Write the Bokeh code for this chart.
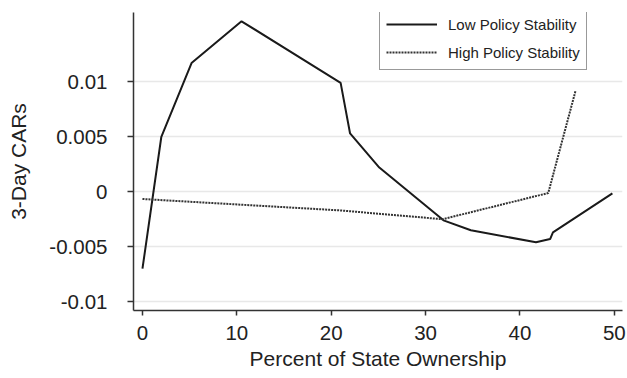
from bokeh.plotting import figure
from bokeh.models import FixedTicker, Range1d, Legend, LegendItem
from bokeh.embed import file_html
from bokeh.resources import INLINE

# ---- data ----
pct_low = [0.0, 2.0, 5.2, 10.5, 21.0, 22.0, 25.1, 31.9, 34.8, 41.7, 43.2, 43.5, 49.8]
car_low = [-0.0070, 0.0050, 0.0117, 0.0155, 0.0099, 0.0053, 0.0022,
           -0.0026, -0.0035, -0.0046, -0.0043, -0.0037, -0.00015]

pct_high = [0.0, 21.0, 31.8, 43.0, 45.9]
car_high = [-0.00066, -0.0017, -0.0025, -0.00012, 0.0092]

x_ticks = [0, 10, 20, 30, 40, 50]
y_ticks = [-0.01, -0.005, 0.0, 0.005, 0.01]
y_tick_labels = ["-0.01", "-0.005", "0", "0.005", "0.01"]

series_names = ["Low Policy Stability", "High Policy Stability"]

FONT = "Liberation Sans"
AX = "#333333"

p = figure(width=627, height=378, output_backend="svg", toolbar_location=None,
           x_range=Range1d(-0.95, 50.87), y_range=Range1d(-0.0108, 0.0163),
           min_border_left=133, min_border_right=5, min_border_top=12,
           min_border_bottom=68)
p.outline_line_color = None
p.background_fill_color = "white"
p.border_fill_color = "white"

# grid
p.xgrid.grid_line_color = None
p.ygrid.ticker = FixedTicker(ticks=y_ticks)
p.ygrid.grid_line_color = "#e8e8e8"
p.ygrid.grid_line_width = 1.5

# x axis
xa = p.xaxis[0]
xa.ticker = FixedTicker(ticks=x_ticks)
xa.axis_label = "Percent of State Ownership"
xa.axis_line_color = AX
xa.axis_line_width = 1.5
xa.major_tick_line_color = AX
xa.major_tick_line_width = 1.5
xa.major_tick_out = 5
xa.major_tick_in = 0
xa.minor_tick_line_color = None
xa.major_label_standoff = 10
xa.major_label_text_font = FONT
xa.major_label_text_font_size = "20.5px"
xa.major_label_text_color = "#222222"
xa.axis_label_text_font = FONT
xa.axis_label_text_font_size = "21px"
xa.axis_label_text_font_style = "normal"
xa.axis_label_text_color = "#222222"
xa.axis_label_standoff = 4

# y axis
ya = p.yaxis[0]
ya.ticker = FixedTicker(ticks=y_ticks)
ya.major_label_overrides = {t: l for t, l in zip(y_ticks, y_tick_labels)}
ya.axis_label = "3-Day CARs"
ya.axis_line_color = AX
ya.axis_line_width = 1.5
ya.major_tick_line_color = AX
ya.major_tick_line_width = 1.5
ya.major_tick_out = 6
ya.major_tick_in = 0
ya.minor_tick_line_color = None
ya.major_label_standoff = 20
ya.major_label_text_font = FONT
ya.major_label_text_font_size = "20.5px"
ya.major_label_text_color = "#222222"
ya.axis_label_text_font = FONT
ya.axis_label_text_font_size = "21px"
ya.axis_label_text_font_style = "normal"
ya.axis_label_text_color = "#222222"
ya.axis_label_standoff = 16

r_low = p.line(pct_low, car_low, line_color="#1a1a1a", line_width=2)
r_high = p.line(pct_high, car_high, line_color="#333333", line_width=2,
                line_dash="2 1")

legend = Legend(items=[LegendItem(label=series_names[0], renderers=[r_low]),
                       LegendItem(label=series_names[1], renderers=[r_high])],
                location=(246, 240))
legend.border_line_color = AX
legend.border_line_width = 1.2
legend.background_fill_color = "white"
legend.background_fill_alpha = 1.0
legend.padding = 6
legend.spacing = 6
legend.glyph_width = 51
legend.glyph_height = 22
legend.label_height = 22
legend.label_standoff = 11
legend.label_text_font = FONT
legend.label_text_font_size = "15px"
legend.label_text_color = "#222222"
legend.margin = 0
p.add_layout(legend, "center")

open("out.html", "w").write(file_html(p, INLINE))
